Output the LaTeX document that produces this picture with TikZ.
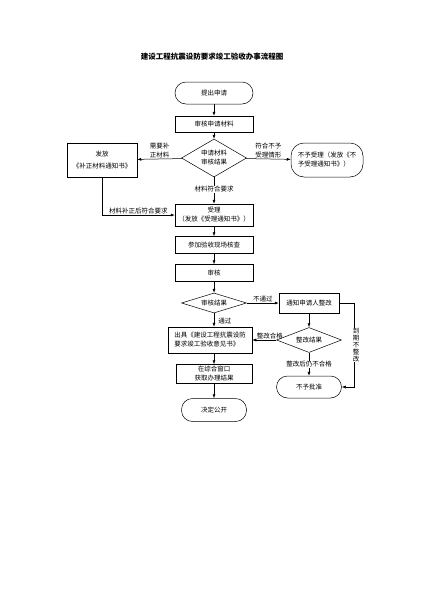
\documentclass[tikz,border=0pt]{standalone}
\usepackage{fontspec}
\setmainfont{Noto Sans CJK SC}
\usetikzlibrary{shapes.geometric,arrows.meta}
\newlength{\du}
\setlength{\du}{1pt}

\begin{document}
\begin{tikzpicture}[
  line width=0.5\du,
  every node/.style={font=\fontsize{6.5}{9}\selectfont, inner sep=1\du},
  stepbox/.style={draw, rectangle, minimum width=78\du, minimum height=17\du, align=center},
  pillbox/.style={draw, rectangle, rounded corners=11\du, minimum width=78\du, minimum height=22\du, align=center},
  choice/.style={draw, diamond, inner sep=0pt, minimum width=65\du, align=center},
  flow/.style={-{Latex[length=4pt,width=3pt]}},
  tag/.style={fill=white, inner sep=0.5\du}
]
\pgftransformxscale{1.000000}
\pgftransformyscale{-1.000000}
\definecolor{dialinecolor}{rgb}{0.000000, 0.000000, 0.000000}
\pgfsetstrokecolor{dialinecolor}
\useasboundingbox (0\du,0\du) rectangle (424\du,600\du);
% title
\node[font=\fontsize{7.5}{9}\selectfont\bfseries] (title) at (212\du,57\du){建设工程抗震设防要求竣工验收办事流程图};
% main column
\node[pillbox] (start) at (214\du,93\du){提出申请};
\node[stepbox, minimum height=16\du] (apply) at (214\du,124\du){审核申请材料};
\node[choice, aspect=1.7, minimum height=38\du] (check) at (214\du,158\du){申请材料\\审核结果};
\node[stepbox, minimum width=70\du, minimum height=34\du] (notice) at (102\du,160\du){发放\\[3\du]《补正材料通知书》};
\node[pillbox, minimum width=72\du, minimum height=34\du, rounded corners=13\du, align=left] (refuse) at (327\du,160\du){不予受理（发放《不\\予受理通知书》）};
\node[stepbox, minimum height=22\du] (accept) at (214\du,215\du){受理\\（发放《受理通知书》）};
\node[stepbox] (inspect) at (214\du,245\du){参加验收现场核查};
\node[stepbox] (review) at (214\du,273\du){审核};
\node[choice, aspect=3, minimum height=20\du] (result) at (214\du,303\du){审核结果};
\node[stepbox, minimum width=60\du, minimum height=20\du] (notify) at (309\du,303\du){通知申请人整改};
\node[stepbox, minimum width=84\du, minimum height=26\du, align=left] (issue) at (210\du,340\du){出具《建设工程抗震设防\\要求竣工验收意见书》};
\node[choice, aspect=2.6, minimum height=25\du] (fix) at (309\du,340\du){整改结果};
\node[pillbox, minimum width=65\du] (reject) at (309\du,387\du){不予批准};
\node[stepbox, minimum width=76\du, minimum height=19\du] (window) at (214\du,374\du){在综合窗口\\获取办理结果};
\node[pillbox, minimum width=65\du, minimum height=23\du] (publish) at (214\du,410\du){决定公开};
\coordinate (bend) at (354\du,303\du);
% connectors
\draw[flow] (start) -- (apply);
\draw[flow] (apply) -- (check);
\draw[flow] (check) -- node[above, align=left] (lblsupply){需要补\\正材料} (notice);
\draw[flow] (check) -- node[above, align=left] (lblrefuse){符合不予\\受理情形} (refuse);
\draw[flow] (check) -- node[tag, pos=0.45] (lblok){材料符合要求} (accept);
\draw[flow] (notice.south) |- node[pos=0.75, above] (lblfixed){材料补正后符合要求} (accept.west);
\draw[flow] (accept) -- (inspect);
\draw[flow] (inspect) -- (review);
\draw[flow] (review) -- (result);
\draw[flow] (result) -- node[above] (lblfail){不通过} (notify);
\draw[flow] (result.south) -- node[right, xshift=3\du, pos=0.6] (lblpass){通过} (result.south |- issue.north);
\draw[flow] (notify) -- (fix);
\draw[flow] (fix) -- node[above, pos=0.1, xshift=-4\du] (lblgood){整改合格} (issue);
\draw[flow] (fix) -- node[tag] (lblbad){整改后仍不合格} (reject);
\draw[flow] (notify.east) -- (bend) -- node[tag, xshift=2\du, align=center, font=\fontsize{6.5}{7}\selectfont] (lbllate){到\\期\\不\\整\\改} (bend |- reject.east) -- (reject.east);
\draw[flow] (window.north |- issue.south) -- (window.north);
\draw[flow] (window) -- (publish);
\end{tikzpicture}
\end{document}
